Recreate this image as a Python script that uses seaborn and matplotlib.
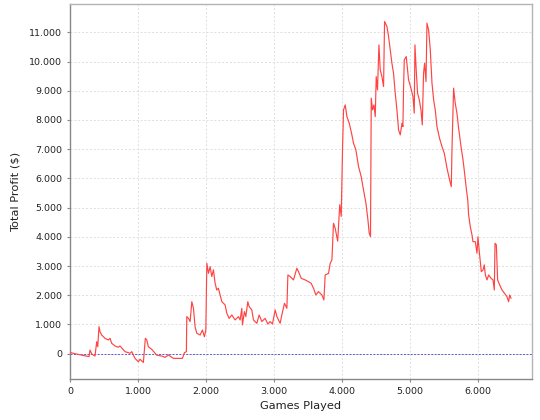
import matplotlib
matplotlib.use("Agg")
import matplotlib.pyplot as plt
import matplotlib.ticker as mticker
import seaborn as sns
import pandas as pd

games = [0, 10, 150, 280, 295, 320, 368, 393, 408, 427, 442, 467, 516, 564, 589, 614, 663, 711,
         736, 810, 884, 909, 957, 1006, 1031, 1080, 1109, 1130, 1153, 1203, 1277, 1351, 1399,
         1448, 1522, 1595, 1654, 1684, 1713, 1719, 1743, 1768, 1793, 1817, 1841, 1866, 1915,
         1949, 1978, 1999, 2014, 2038, 2062, 2087, 2111, 2136, 2160, 2184, 2235, 2283, 2308,
         2342, 2382, 2430, 2479, 2504, 2529, 2538, 2567, 2588, 2617, 2637, 2676, 2700, 2725,
         2750, 2784, 2824, 2872, 2912, 2946, 2980, 3020, 3045, 3093, 3118, 3157, 3192, 3207,
         3241, 3289, 3339, 3363, 3403, 3462, 3510, 3550, 3584, 3619, 3657, 3708, 3737, 3756,
         3805, 3830, 3855, 3878, 3903, 3940, 3970, 3992, 4011, 4026, 4051, 4076, 4110, 4149,
         4173, 4208, 4247, 4286, 4320, 4356, 4385, 4404, 4423, 4434, 4453, 4473, 4493, 4507,
         4526, 4547, 4566, 4591, 4615, 4630, 4665, 4689, 4714, 4738, 4762, 4787, 4812, 4836,
         4861, 4886, 4900, 4910, 4920, 4949, 4968, 4983, 5018, 5048, 5067, 5077, 5097, 5116,
         5141, 5166, 5185, 5204, 5219, 5240, 5254, 5278, 5303, 5328, 5352, 5376, 5401, 5439,
         5475, 5509, 5549, 5587, 5612, 5622, 5646, 5670, 5695, 5720, 5755, 5784, 5808, 5833,
         5855, 5867, 5892, 5917, 5931, 5965, 5990, 6005, 6024, 6039, 6054, 6079, 6098, 6113,
         6138, 6162, 6197, 6226, 6245, 6256, 6275, 6294, 6324, 6359, 6393, 6432, 6456, 6471,
         6492]
profit = [0, 35, -40, -100, 125, -10, -80, 410, 240, 925, 750, 640, 525, 470, 525, 355, 265, 220,
          265, 70, 15, 70, -160, -275, -190, -300, 525, 470, 240, 150, -50, -80, -125,
          -45, -160, -160, -160, 35, 70, 1270, 1210, 1100, 1780, 1555, 925, 700, 640,
          810, 580, 810, 3095, 2750, 2980, 2640, 2870, 2410, 2180, 2240, 1780, 1670, 1385,
          1210, 1325, 1155, 1270, 1155, 1555, 985, 1440, 1270, 1780, 1610, 1500, 1155, 1100,
          1040, 1325, 1100, 1210, 1015, 1100, 1015, 1500, 1270, 1040, 1325, 1725, 1555, 2695,
          2640, 2525, 2925, 2810, 2580, 2525, 2465, 2410, 2240, 2010, 2125, 2010, 1840, 2695,
          2750, 3095, 3210, 4465, 4295, 3850, 5100, 4700, 6975, 8345, 8515, 8115, 7890, 7490,
          7205, 6975, 6405, 6060, 5605, 5150, 4580, 4125, 4005, 8745, 8345, 8515, 8115, 9485,
          9030, 10570, 9715, 9485, 9145, 11370, 11200, 10855, 10400, 9945, 9600, 8915, 8345, 7660,
          7490, 7890, 7775, 9145, 10060, 10170, 9715, 9375, 9090, 8800, 8235, 10570, 9660, 8915,
          8690, 8345, 7830, 9600, 9945, 9315, 11315, 11085, 10400, 9260, 8690, 8345, 7775, 7375,
          7090, 6860, 6350, 5950, 5720, 6975, 9090, 8575, 8235, 7720, 7090, 6650, 6180, 5650,
          5250, 4750, 4350, 4065, 3835, 3835, 3440, 4005, 3495, 3150, 2810, 2865, 3040, 2695,
          2525, 2695, 2580, 2525, 2180, 3780, 3725, 2525, 2355, 2180, 2070, 1950, 1780, 2010,
          1895]

x_ticks = [0, 1000, 2000, 3000, 4000, 5000, 6000]
y_ticks = [0, 1000, 2000, 3000, 4000, 5000, 6000, 7000, 8000, 9000, 10000, 11000]

sns.set_theme(style="white")
plt.rcParams['font.family'] = ['DejaVu Sans']

df = pd.DataFrame({"Games Played": games, "Total Profit ($)": profit})

fig = plt.figure(figsize=(5.4, 4.2), dpi=100)
ax = fig.add_axes([70 / 540, 41 / 420, 462 / 540, 375 / 420])

ax.set_xlim(0, 6800)
ax.set_ylim(-866, 11970)
ax.set_xticks(x_ticks)
ax.set_yticks(y_ticks)
fmt = mticker.FuncFormatter(lambda v, p: f"{int(v):,}".replace(",", "."))
ax.xaxis.set_major_formatter(fmt)
ax.yaxis.set_major_formatter(fmt)

ax.grid(True, color="#dedede", linestyle=(0, (2, 2)), linewidth=0.7)
ax.set_axisbelow(True)
ax.axhline(0, color="#5a5ad2", linestyle=(0, (2, 1.5)), linewidth=0.7, zorder=2)

sns.lineplot(data=df, x="Games Played", y="Total Profit ($)", sort=False, estimator=None,
             color="#ff4444", linewidth=0.85, ax=ax, zorder=3)

for s in ["left", "bottom"]:
    ax.spines[s].set_color("#888888")
    ax.spines[s].set_linewidth(1.0)
for s in ["top", "right"]:
    ax.spines[s].set_color("#b4b4b4")
    ax.spines[s].set_linewidth(1.0)

ax.tick_params(axis="both", which="major", direction="out", length=2.5, width=0.8,
               color="#888888", labelsize=6.8, labelcolor="#222222", pad=3,
               bottom=True, left=True)
ax.set_xlabel("Games Played", fontsize=8.2, color="#222222", labelpad=4)
ax.set_ylabel("Total Profit ($)", fontsize=8.2, color="#222222", labelpad=6)

fig.savefig("out.png", dpi=100)
